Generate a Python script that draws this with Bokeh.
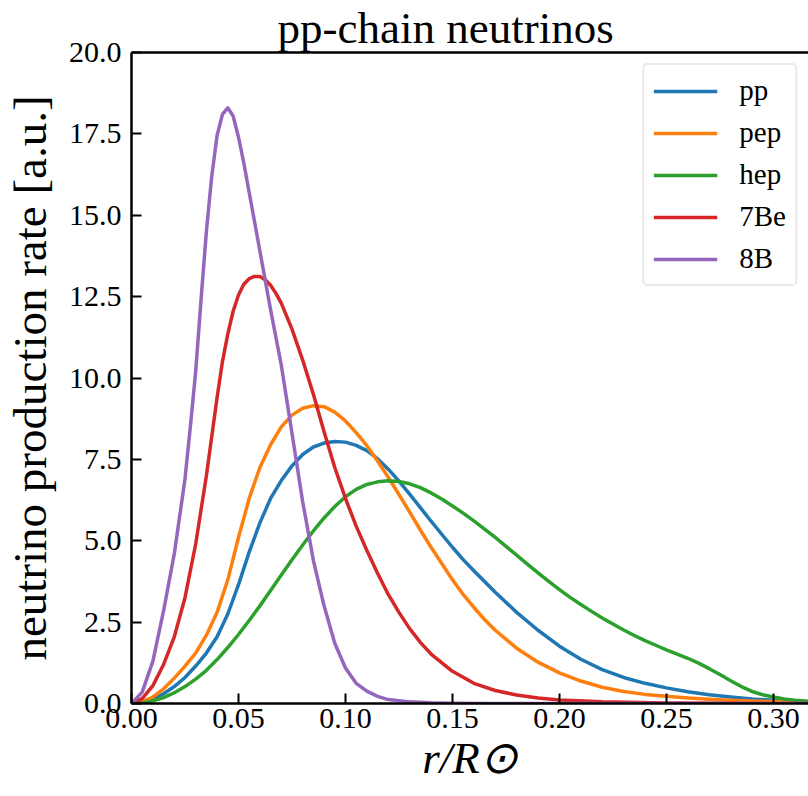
from bokeh.plotting import figure
from bokeh.models import (Range1d, FixedTicker, PrintfTickFormatter, LinearAxis,
                          Legend, LegendItem)
from bokeh.embed import file_html
from bokeh.resources import INLINE

# ---- data ----
labels = ["pp", "pep", "hep", "7Be", "8B"]
colors = ["#1f77b4", "#ff7f0e", "#2ca02c", "#d62728", "#9467bd"]

x_pp = [0, 0.005, 0.01, 0.015, 0.02, 0.025, 0.03, 0.035, 0.04, 0.045, 0.05, 0.055, 0.06, 0.065,
        0.07, 0.075, 0.08, 0.085, 0.09, 0.095, 0.10, 0.105, 0.11, 0.115, 0.12, 0.125, 0.13, 0.135,
        0.14, 0.145, 0.15, 0.155, 0.16, 0.165, 0.17, 0.18, 0.19, 0.20, 0.21, 0.22, 0.23, 0.24,
        0.25, 0.26, 0.27, 0.28, 0.29, 0.30, 0.3165]
y_pp = [0, 0.03, 0.13, 0.3, 0.52, 0.8, 1.15, 1.55, 2.05, 2.75, 3.65, 4.65, 5.55, 6.3,
        6.85, 7.3, 7.65, 7.88, 8.0, 8.05, 8.03, 7.93, 7.77, 7.52, 7.2, 6.83, 6.43, 6.02,
        5.6, 5.2, 4.8, 4.42, 4.08, 3.75, 3.42, 2.8, 2.25, 1.76, 1.36, 1.04, 0.8, 0.62,
        0.48, 0.36, 0.27, 0.2, 0.14, 0.1, 0.05]

x_pep = [0, 0.005, 0.01, 0.015, 0.02, 0.025, 0.03, 0.035, 0.04, 0.045, 0.05, 0.055, 0.06, 0.065,
         0.07, 0.075, 0.08, 0.085, 0.09, 0.095, 0.10, 0.105, 0.11, 0.115, 0.12, 0.125, 0.13, 0.135,
         0.14, 0.145, 0.15, 0.155, 0.16, 0.165, 0.17, 0.18, 0.19, 0.20, 0.21, 0.22, 0.23, 0.24,
         0.25, 0.26, 0.27, 0.28, 0.29, 0.30, 0.3165]
y_pep = [0, 0.05, 0.2, 0.45, 0.78, 1.15, 1.55, 2.1, 2.8, 3.8, 5.1, 6.3, 7.25, 7.95,
         8.5, 8.86, 9.07, 9.15, 9.12, 8.95, 8.68, 8.32, 7.92, 7.45, 6.95, 6.42, 5.88, 5.33,
         4.8, 4.3, 3.8, 3.35, 2.95, 2.58, 2.25, 1.7, 1.27, 0.94, 0.69, 0.5, 0.37, 0.28,
         0.22, 0.17, 0.13, 0.1, 0.08, 0.06, 0.03]

x_hep = [0, 0.005, 0.01, 0.015, 0.02, 0.025, 0.03, 0.035, 0.04, 0.045, 0.05, 0.055, 0.06, 0.065,
         0.07, 0.075, 0.08, 0.085, 0.09, 0.095, 0.10, 0.105, 0.11, 0.115, 0.12, 0.125, 0.13, 0.135,
         0.14, 0.145, 0.15, 0.155, 0.16, 0.165, 0.17, 0.175, 0.18, 0.185, 0.19, 0.195, 0.20, 0.205,
         0.21, 0.215, 0.22, 0.225, 0.23, 0.235, 0.24, 0.245, 0.25, 0.255, 0.26, 0.265, 0.27, 0.275,
         0.28, 0.285, 0.29, 0.295, 0.30, 0.305, 0.31, 0.3165]
y_hep = [0, 0.02, 0.08, 0.18, 0.33, 0.52, 0.75, 1.02, 1.35, 1.72, 2.12, 2.55, 3.0, 3.47,
         3.95, 4.42, 4.87, 5.3, 5.7, 6.05, 6.35, 6.58, 6.73, 6.81, 6.84, 6.82, 6.75, 6.63,
         6.47, 6.28, 6.07, 5.85, 5.61, 5.36, 5.1, 4.83, 4.56, 4.28, 4.01, 3.75, 3.5, 3.26,
         3.04, 2.83, 2.63, 2.44, 2.26, 2.09, 1.93, 1.79, 1.65, 1.52, 1.39, 1.24, 1.07, 0.89,
         0.7, 0.52, 0.37, 0.27, 0.2, 0.14, 0.1, 0.07]

x_be7 = [0, 0.005, 0.01, 0.015, 0.02, 0.025, 0.03, 0.035, 0.04, 0.0425, 0.045, 0.0475, 0.05,
         0.0525, 0.055, 0.0575, 0.06, 0.0625, 0.065, 0.0675, 0.07, 0.075, 0.08, 0.085, 0.09,
         0.095, 0.10, 0.105, 0.11, 0.115, 0.12, 0.125, 0.13, 0.135, 0.14, 0.15, 0.16, 0.17, 0.18,
         0.19, 0.20, 0.22, 0.25, 0.28, 0.3165]
y_be7 = [0, 0.15, 0.55, 1.2, 2.05, 3.25, 4.9, 7.0, 9.4, 10.5, 11.35, 12.05, 12.55,
         12.88, 13.05, 13.12, 13.12, 13.02, 12.85, 12.6, 12.3, 11.5, 10.55, 9.5, 8.35,
         7.25, 6.3, 5.45, 4.7, 4.0, 3.35, 2.8, 2.3, 1.88, 1.52, 0.99, 0.62, 0.4, 0.26,
         0.17, 0.11, 0.05, 0.015, 0.005, 0]

x_b8 = [0, 0.005, 0.01, 0.015, 0.02, 0.025, 0.0275, 0.03, 0.0325, 0.035, 0.0375, 0.04, 0.0425,
        0.045, 0.0475, 0.05, 0.0525, 0.055, 0.0575, 0.06, 0.0625, 0.065, 0.0675, 0.07, 0.075,
        0.08, 0.085, 0.09, 0.095, 0.10, 0.105, 0.11, 0.115, 0.12, 0.13, 0.14, 0.15, 0.17, 0.20,
        0.25, 0.3165]
y_b8 = [0, 0.35, 1.3, 2.85, 4.6, 6.9, 8.5, 10.2, 12.4, 14.5, 16.2, 17.45, 18.1,
        18.3, 18.05, 17.4, 16.6, 15.7, 14.8, 13.9, 13.0, 12.1, 11.25, 10.4, 8.3,
        6.2, 4.4, 3.0, 1.85, 1.09, 0.62, 0.38, 0.22, 0.12, 0.05, 0.02, 0.01, 0.0, 0.0,
        0.0, 0.0]

series_x = [x_pp, x_pep, x_hep, x_be7, x_b8]
series_y = [y_pp, y_pep, y_hep, y_be7, y_b8]

x_ticks = [0.0, 0.05, 0.10, 0.15, 0.20, 0.25, 0.30]
y_ticks = [0.0, 2.5, 5.0, 7.5, 10.0, 12.5, 15.0, 17.5, 20.0]

SERIF = "Liberation Serif"

p = figure(width=808, height=796, output_backend="svg", toolbar_location=None,
           x_range=Range1d(0, 0.3164), y_range=Range1d(0, 20),
           min_border_left=131, min_border_right=0, min_border_top=51, min_border_bottom=93)
p.background_fill_color = "white"
p.border_fill_color = "white"
p.outline_line_color = None
p.xgrid.visible = False
p.ygrid.visible = False

# title
p.title.text = "pp-chain neutrinos"
p.title.align = "left"
p.title.offset = 146
p.title.standoff = 0
p.title.text_line_height = 0.9
p.title.text_font = SERIF
p.title.text_font_size = "45px"
p.title.text_font_style = "normal"
p.title.text_color = "black"

for ax, ticks, fmt in ((p.xaxis[0], x_ticks, "%.2f"), (p.yaxis[0], y_ticks, "%.1f")):
    ax.ticker = FixedTicker(ticks=ticks)
    ax.formatter = PrintfTickFormatter(format=fmt)
    ax.major_tick_in = 10
    ax.major_tick_out = 0
    ax.minor_tick_in = 0
    ax.minor_tick_out = 0
    ax.major_tick_line_width = 2
    ax.axis_line_width = 2.5
    ax.major_label_text_font = SERIF
    ax.major_label_text_font_size = "30px"
    ax.major_label_text_color = "black"
    ax.axis_label_text_font = SERIF
    ax.axis_label_text_color = "black"

p.xaxis[0].major_label_standoff = 5
p.xaxis[0].axis_label = "r/R\u2299"
p.xaxis[0].axis_label_text_font_size = "45px"
p.xaxis[0].axis_label_text_font_style = "italic"
p.xaxis[0].axis_label_standoff = 2

p.yaxis[0].major_label_standoff = 10
p.yaxis[0].axis_label = "neutrino production rate [a.u.]"
p.yaxis[0].axis_label_text_font_size = "47px"
p.yaxis[0].axis_label_text_font_style = "normal"
p.yaxis[0].axis_label_standoff = 10

top_axis = LinearAxis(ticker=FixedTicker(ticks=[]), axis_line_width=2.5,
                      major_tick_in=0, major_tick_out=0, minor_tick_in=0, minor_tick_out=0)
p.add_layout(top_axis, "above")

renderers = []
for xs, ys, c in zip(series_x, series_y, colors):
    r = p.line(xs, ys, line_color=c, line_width=3.5, line_join="round")
    renderers.append(r)

legend = Legend(items=[LegendItem(label=l, renderers=[r]) for l, r in zip(labels, renderers)],
                location="top_right")
legend.label_text_font = SERIF
legend.label_text_font_size = "29px"
legend.label_text_color = "black"
legend.glyph_width = 64
legend.glyph_height = 28
legend.label_height = 28
legend.label_standoff = 22
legend.spacing = 9
legend.padding = 9
legend.margin = 11
legend.border_line_color = "#d6d6d6"
legend.border_line_width = 2
legend.background_fill_alpha = 0.9
legend.border_radius = 5
p.add_layout(legend)

open("out.html", "w").write(file_html(p, INLINE))
